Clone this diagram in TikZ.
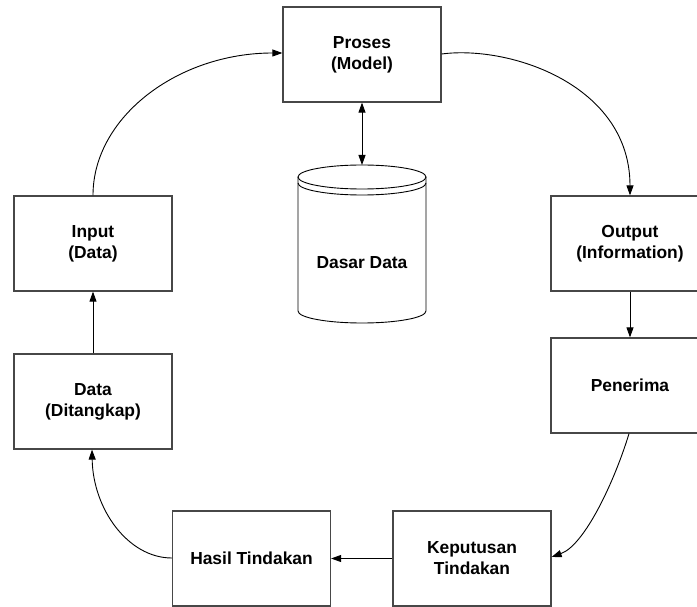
\documentclass[tikz,border=0pt]{standalone}
\usepackage{fontspec}
\setmainfont{Liberation Sans}
\usetikzlibrary{arrows.meta}
\begin{document}
\begin{tikzpicture}[x=1pt,y=-1pt,
  box/.style={draw=black!72, line width=1.2pt, rectangle, minimum width=158pt, minimum height=95pt,
    inner sep=0pt, align=center, font=\fontsize{17.4}{21}\selectfont\bfseries},
  lbl/.style={align=center, font=\fontsize{17.4}{21}\selectfont\bfseries},
  conn/.style={draw=black, line width=0.9pt, -{Triangle[length=10pt,width=7pt]}},
  dbline/.style={draw=black, line width=0.9pt}]
\clip (0,0) rectangle (697,607);
\fill[white] (0,0) rectangle (697,607);
% boxes
\node[box] (proses) at (362,54.5) {Proses\\(Model)};
\node[box] (input) at (93,243.5) {Input\\(Data)};
\node[box] (data) at (93,401.5) {Data\\(Ditangkap)};
\node[box] (output) at (630,243.5) {Output\\(Information)};
\node[box] (penerima) at (630,385.5) {Penerima};
\node[box] (keputusan) at (472,558.5) {Keputusan\\Tindakan};
\node[box] (hasil) at (251.5,558.5) {Hasil Tindakan};
% database cylinder
\draw[dbline] (298,177) -- (298,311) arc[start angle=180, end angle=360, x radius=64, y radius=-12] -- (426,177);
\draw[dbline] (362,177) ellipse[x radius=64, y radius=12];
\draw[dbline] (298,183) arc[start angle=180, end angle=360, x radius=64, y radius=-12];
\coordinate (dbtop) at (362,165);
\node[lbl] (db) at (362,263) {Dasar Data};
% connectors
\draw[conn, {Triangle[length=10pt,width=7pt]}-{Triangle[length=10pt,width=7pt]}] (proses.south) -- (dbtop);
\draw[conn] (input.north) .. controls (93,117) and (178,53) .. (proses.west |- 0,53);
\draw[conn] (proses.east |- 0,54) .. controls (510,45) and (630,85) .. (output.north);
\draw[conn] (output.south) -- (penerima.north);
\draw[conn] (penerima.south -| 629,0) .. controls (615,480) and (585,545) .. (keputusan.east |- 0,557);
\draw[conn] (keputusan.west) -- (hasil.east);
\draw[conn] (hasil.west |- 0,558) .. controls (128,558) and (93,509) .. (data.south -| 92,0);
\draw[conn] (data.north) -- (input.south);
\end{tikzpicture}
\end{document}
